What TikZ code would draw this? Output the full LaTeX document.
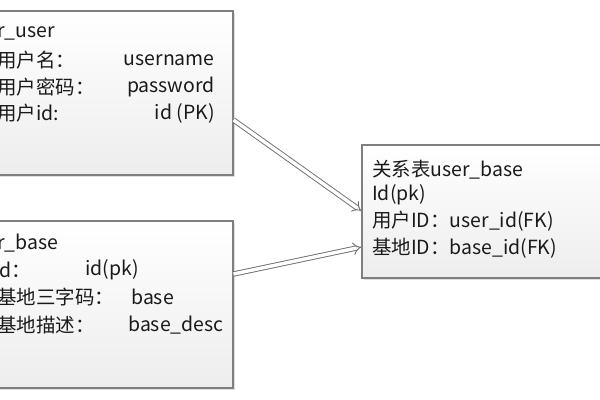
\documentclass[tikz,border=0pt]{standalone}
\usepackage{fontspec}
\setmainfont{Noto Sans CJK SC}
\usepackage{tikz}
\usetikzlibrary{arrows.meta, positioning, fit, shadows}
\usepackage{xcolor}
\definecolor{BoxLine}{HTML}{7F7F7F}
\definecolor{BoxText}{HTML}{1A1A1A}
\definecolor{LinkLine}{HTML}{707070}
\tikzset{
    % Table boxes - sharp corners, light shading
    tablebox/.style={
        rectangle,
        draw=BoxLine,
        line width=0.8pt,
        top color=white,
        bottom color=black!7,
        inner sep=0pt,
        drop shadow={shadow xshift=1.5pt, shadow yshift=-1.5pt, opacity=0.25}
    },
    field/.style={
        anchor=west,
        inner sep=0pt,
        text=BoxText,
        font=\fontsize{14.6}{18}\selectfont
    },
    fieldr/.style={
        field,
        anchor=east
    },
    % Hollow double arrows
    link/.style={
        -{Implies[scale=1.3]},
        draw=LinkLine,
        double=white,
        double distance=2.6pt,
        line width=0.7pt
    }
}

\begin{document}
\begin{tikzpicture}[x=0.75pt, y=-0.75pt]
    \useasboundingbox (0,0) rectangle (600,400);
    \clip (0,0) rectangle (600,400);

    % User table
    \node[tablebox, fit={(-30,11) (233,175)}] (user) {};
    \node[field] (uname) at (-3,33) {r\_user};
    \node[field] (u1) at (-3,60) {用户名：};
    \node[field] (u2) at (-3,87) {用户密码：};
    \node[field] (u3) at (-3,113) {用户id:};
    \node[fieldr] (v1) at (215,60) {username};
    \node[fieldr] (v2) at (215,87) {password};
    \node[fieldr] (v3) at (215,113) {id (PK)};

    % Base table
    \node[tablebox, fit={(-30,221) (233,388)}] (base) {};
    \node[field] (bname) at (-3,243) {r\_base};
    \node[field] (b1) at (-1,270) {d：};
    \node[field] (b2) at (-3,297) {基地三字码：};
    \node[field] (b3) at (-3,325) {基地描述：};
    \node[field] (w1) at (85,270) {id(pk)};
    \node[field] (w2) at (131,297) {base};
    \node[field] (w3) at (128,325) {base\_desc};

    % Relation table
    \node[tablebox, fit={(362,145) (630,278)}] (rel) {};
    \node[field] (rname) at (372,170) {关系表user\_base};
    \node[field] (r1) at (372,195) {Id(pk)};
    \node[field] (r2) at (372,221) {用户ID：user\_id(FK)};
    \node[field] (r3) at (372,248) {基地ID：base\_id(FK)};

    % Links
    \coordinate (userout) at (user.east |- 0,120);
    \coordinate (userin) at (rel.west |- 0,211);
    \coordinate (baseout) at (base.east |- 0,274);
    \coordinate (basein) at (rel.west |- 0,247);
    \draw[link] (userout) -- (userin);
    \draw[link] (baseout) -- (basein);
\end{tikzpicture}
\end{document}
